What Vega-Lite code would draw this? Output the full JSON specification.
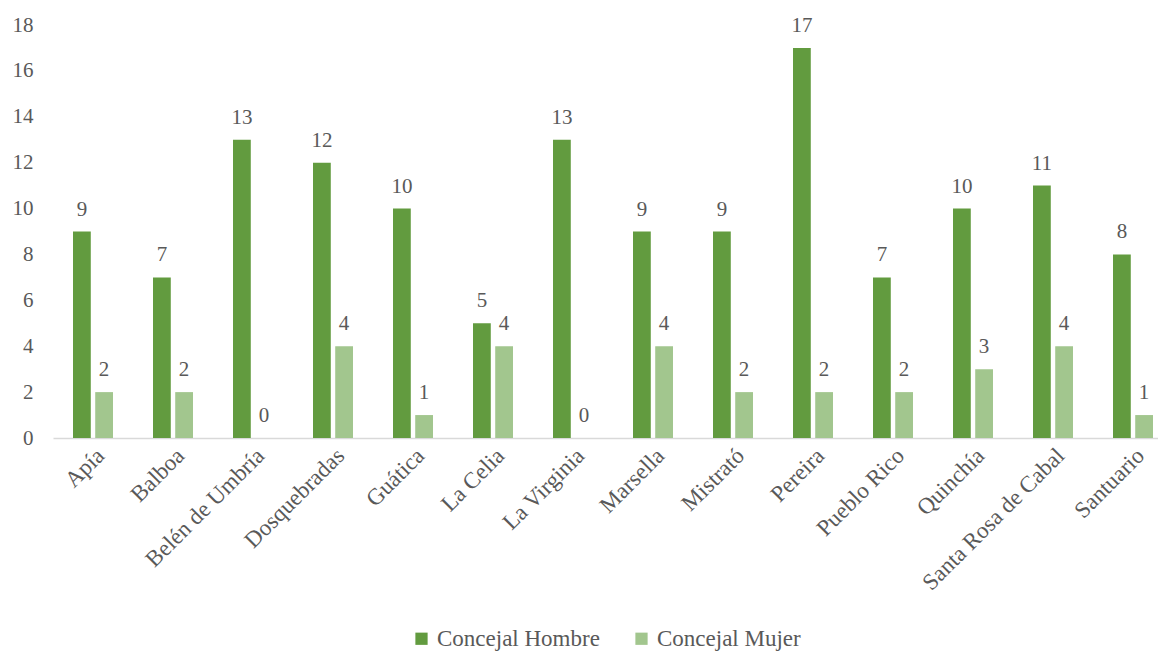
{
  "$schema": "https://vega.github.io/schema/vega-lite/v6.json",
  "autosize": {"type": "none"},
  "width": 1120,
  "height": 413,
  "padding": {"left": 53, "top": 25, "right": 0, "bottom": 214},
  "background": "white",
  "config": {
    "view": {"stroke": null},
    "font": "Liberation Serif",
    "axis": {"labelFont": "Liberation Serif", "labelColor": "#595959", "labelFontSize": 21, "titleFontSize": 0, "labelLimit": 0},
    "legend": {"labelFont": "Liberation Serif", "labelColor": "#595959", "labelFontSize": 23, "labelLimit": 0}
  },
  "data": {
    "values": [
      {"municipio": "Apía", "serie": "Concejal Hombre", "valor": 9},
      {"municipio": "Apía", "serie": "Concejal Mujer", "valor": 2},
      {"municipio": "Balboa", "serie": "Concejal Hombre", "valor": 7},
      {"municipio": "Balboa", "serie": "Concejal Mujer", "valor": 2},
      {"municipio": "Belén de Umbría", "serie": "Concejal Hombre", "valor": 13},
      {"municipio": "Belén de Umbría", "serie": "Concejal Mujer", "valor": 0},
      {"municipio": "Dosquebradas", "serie": "Concejal Hombre", "valor": 12},
      {"municipio": "Dosquebradas", "serie": "Concejal Mujer", "valor": 4},
      {"municipio": "Guática", "serie": "Concejal Hombre", "valor": 10},
      {"municipio": "Guática", "serie": "Concejal Mujer", "valor": 1},
      {"municipio": "La Celia", "serie": "Concejal Hombre", "valor": 5},
      {"municipio": "La Celia", "serie": "Concejal Mujer", "valor": 4},
      {"municipio": "La Virginia", "serie": "Concejal Hombre", "valor": 13},
      {"municipio": "La Virginia", "serie": "Concejal Mujer", "valor": 0},
      {"municipio": "Marsella", "serie": "Concejal Hombre", "valor": 9},
      {"municipio": "Marsella", "serie": "Concejal Mujer", "valor": 4},
      {"municipio": "Mistrató", "serie": "Concejal Hombre", "valor": 9},
      {"municipio": "Mistrató", "serie": "Concejal Mujer", "valor": 2},
      {"municipio": "Pereira", "serie": "Concejal Hombre", "valor": 17},
      {"municipio": "Pereira", "serie": "Concejal Mujer", "valor": 2},
      {"municipio": "Pueblo Rico", "serie": "Concejal Hombre", "valor": 7},
      {"municipio": "Pueblo Rico", "serie": "Concejal Mujer", "valor": 2},
      {"municipio": "Quinchía", "serie": "Concejal Hombre", "valor": 10},
      {"municipio": "Quinchía", "serie": "Concejal Mujer", "valor": 3},
      {"municipio": "Santa Rosa de Cabal", "serie": "Concejal Hombre", "valor": 11},
      {"municipio": "Santa Rosa de Cabal", "serie": "Concejal Mujer", "valor": 4},
      {"municipio": "Santuario", "serie": "Concejal Hombre", "valor": 8},
      {"municipio": "Santuario", "serie": "Concejal Mujer", "valor": 1}
    ]
  },
  "encoding": {
    "x": {
      "field": "municipio", "type": "nominal", "sort": null,
      "scale": {"paddingInner": 0.5, "paddingOuter": 0.25},
      "axis": {"title": null, "labelAngle": -45, "labelFontSize": 23, "labelLimit": 0, "ticks": false, "domainColor": "#d9d9d9", "domainWidth": 1.5, "labelPadding": 6}
    },
    "xOffset": {"field": "serie", "type": "nominal", "scale": {"paddingInner": 0.2, "paddingOuter": 0}},
    "y": {
      "field": "valor", "type": "quantitative",
      "scale": {"domain": [0, 18]},
      "axis": {"title": null, "values": [0, 2, 4, 6, 8, 10, 12, 14, 16, 18], "grid": false, "domain": false, "ticks": false, "tickSize": 0, "labelPadding": 20}
    }
  },
  "layer": [
    {
      "mark": {"type": "bar"},
      "encoding": {
        "color": {
          "field": "serie", "type": "nominal",
          "scale": {"domain": ["Concejal Hombre", "Concejal Mujer"], "range": ["#629b3f", "#a2c68e"]},
          "legend": {"title": null, "orient": "none", "direction": "horizontal", "legendX": 357, "legendY": 602, "symbolType": "square", "symbolSize": 150, "symbolStrokeWidth": 0, "columnPadding": 30, "labelOffset": 4, "labelLimit": 0}
        }
      }
    },
    {
      "mark": {"type": "text", "dy": -12, "baseline": "bottom", "color": "#595959", "fontSize": 21, "font": "Liberation Serif"},
      "encoding": {"text": {"field": "valor", "type": "quantitative"}}
    }
  ]
}
